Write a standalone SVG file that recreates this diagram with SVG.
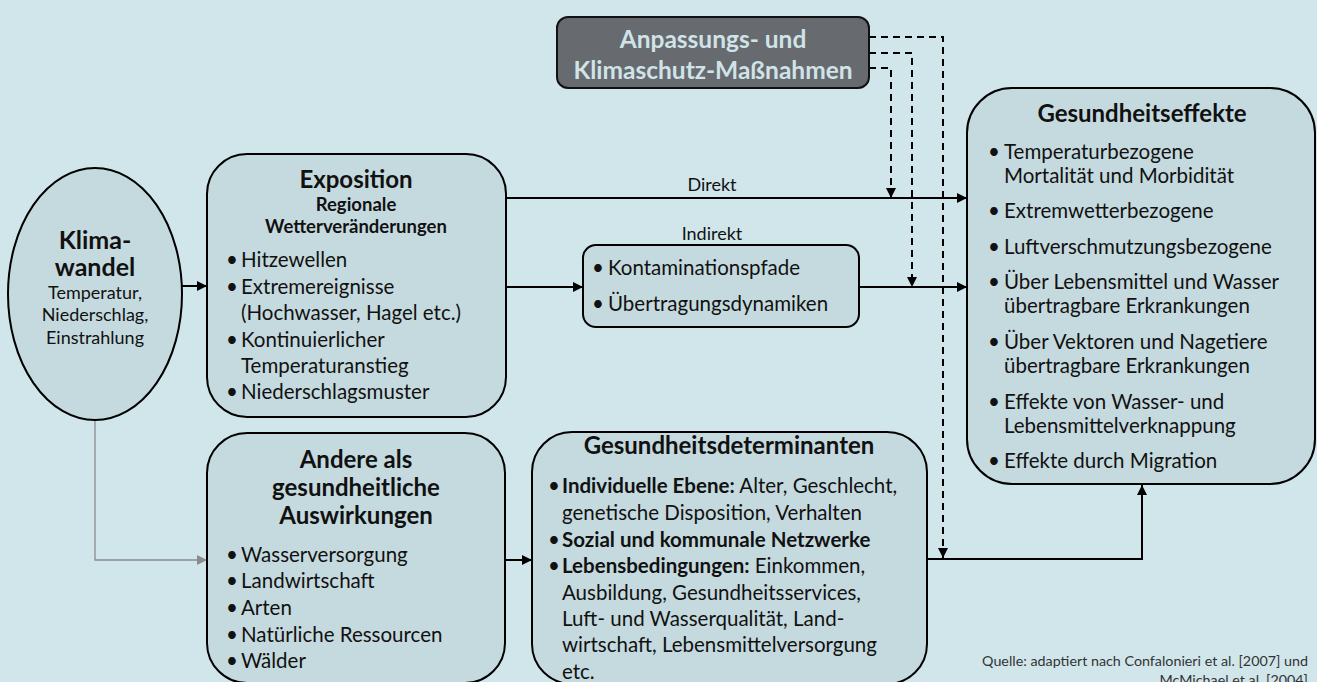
<svg xmlns="http://www.w3.org/2000/svg" width="1317" height="682" viewBox="0 0 1317 682">
<defs>
<marker id="ah" viewBox="0 0 10 10" refX="10" refY="5" markerWidth="11" markerHeight="10" markerUnits="userSpaceOnUse" orient="auto"><path d="M0,0 L10,5 L0,10 z" fill="#000"/></marker>
<marker id="ahg" viewBox="0 0 10 10" refX="10" refY="5" markerWidth="11" markerHeight="10" markerUnits="userSpaceOnUse" orient="auto"><path d="M0,0 L10,5 L0,10 z" fill="#8c8c8c"/></marker>
<style>
.bg{fill:#D0E6EB}
.node{fill:#C5DADF;stroke:#000;stroke-width:2}
.dark{fill:#676A6E;stroke:#111;stroke-width:2}
text{font-family:Lato,"Open Sans",sans-serif;fill:#111}
.t{font-size:24px;font-weight:bold;text-anchor:middle}
.st{font-size:18.5px;font-weight:bold;text-anchor:middle}
.b{font-size:20.5px}
.c{font-size:18px;text-anchor:middle}
.lbl{font-size:18px;text-anchor:middle}
.dk{font-size:24.5px;font-weight:bold;text-anchor:middle;fill:#CFE3E8}
.src{font-size:14.3px;text-anchor:end;fill:#333}
.ln{fill:none;stroke:#000;stroke-width:2}
.ds{fill:none;stroke:#000;stroke-width:2;stroke-dasharray:7 5}
.gr{fill:none;stroke:#8c8c8c;stroke-width:1.3}
</style>
</defs>
<rect class="bg" x="0" y="0" width="1317" height="682"/>

<g id="connectors">
<line class="ln" x1="182" y1="286" x2="207" y2="286" marker-end="url(#ah)"/>
<line class="ln" x1="506" y1="198" x2="967" y2="198" marker-end="url(#ah)"/>
<line class="ln" x1="506" y1="287" x2="583" y2="287" marker-end="url(#ah)"/>
<line class="ln" x1="859" y1="287" x2="967" y2="287" marker-end="url(#ah)"/>
<polyline class="gr" points="95,420 95,560 207,560" marker-end="url(#ahg)"/>
<line class="ln" x1="505" y1="560" x2="532" y2="560" marker-end="url(#ah)"/>
<polyline class="ln" points="927,559 1142,559 1142,485" marker-end="url(#ah)"/>
<polyline class="ds" points="869,37 943,37 943,558" marker-end="url(#ah)"/>
<polyline class="ds" points="869,53 912,53 912,287" marker-end="url(#ah)"/>
<polyline class="ds" points="869,68 891,68 891,198" marker-end="url(#ah)"/>
<text class="lbl" x="712" y="191">Direkt</text>
<text class="lbl" x="712" y="240">Indirekt</text>
</g>

<g id="massnahmen">
<rect class="dark" x="557" y="17" width="312" height="71" rx="11"/>
<text class="dk" x="713" y="48">Anpassungs- und</text>
<text class="dk" x="713" y="79">Klimaschutz-Maßnahmen</text>
</g>

<g id="klimawandel">
<ellipse class="node" cx="95" cy="294" rx="87" ry="126"/>
<text x="95" y="249" style="font-size:25px;font-weight:bold;text-anchor:middle">Klima-</text>
<text x="95" y="276" style="font-size:25px;font-weight:bold;text-anchor:middle">wandel</text>
<text class="c" x="95" y="299">Temperatur,</text>
<text class="c" x="95" y="321">Niederschlag,</text>
<text class="c" x="95" y="344">Einstrahlung</text>
</g>

<g id="exposition">
<rect class="node" x="207" y="154" width="299" height="263" rx="40"/>
<text class="t" x="356" y="188">Exposition</text>
<text class="st" x="356" y="211">Regionale</text>
<text class="st" x="356" y="233">Wetterveränderungen</text>
<text class="b" x="226" y="267">•</text><text class="b" x="241" y="267">Hitzewellen</text>
<text class="b" x="226" y="294">•</text><text class="b" x="241" y="294">Extremereignisse</text>
<text class="b" x="241" y="320">(Hochwasser, Hagel etc.)</text>
<text class="b" x="226" y="347">•</text><text class="b" x="241" y="347">Kontinuierlicher</text>
<text class="b" x="241" y="373">Temperaturanstieg</text>
<text class="b" x="226" y="399">•</text><text class="b" x="241" y="399">Niederschlagsmuster</text>
</g>

<g id="kontamination">
<rect class="node" x="583" y="245" width="276" height="82" rx="13"/>
<text class="b" x="592" y="275">•</text><text class="b" x="608" y="275">Kontaminationspfade</text>
<text class="b" x="592" y="311">•</text><text class="b" x="608" y="311">Übertragungsdynamiken</text>
</g>

<g id="gesundheitseffekte">
<rect class="node" x="967" y="88" width="348" height="396" rx="45"/>
<text class="t" x="1142" y="122">Gesundheitseffekte</text>
<text class="b" x="988" y="159">•</text><text class="b" x="1004" y="159">Temperaturbezogene</text>
<text class="b" x="1004" y="183">Mortalität und Morbidität</text>
<text class="b" x="988" y="218">•</text><text class="b" x="1004" y="218">Extremwetterbezogene</text>
<text class="b" x="988" y="254">•</text><text class="b" x="1004" y="254">Luftverschmutzungsbezogene</text>
<text class="b" x="988" y="289">•</text><text class="b" x="1004" y="289">Über Lebensmittel und Wasser</text>
<text class="b" x="1004" y="313">übertragbare Erkrankungen</text>
<text class="b" x="988" y="349">•</text><text class="b" x="1004" y="349">Über Vektoren und Nagetiere</text>
<text class="b" x="1004" y="373">übertragbare Erkrankungen</text>
<text class="b" x="988" y="409">•</text><text class="b" x="1004" y="409">Effekte von Wasser- und</text>
<text class="b" x="1004" y="433">Lebensmittelverknappung</text>
<text class="b" x="988" y="468">•</text><text class="b" x="1004" y="468">Effekte durch Migration</text>
</g>

<g id="andere">
<rect class="node" x="207" y="433" width="298" height="250" rx="40"/>
<text class="t" x="356" y="468">Andere als</text>
<text class="t" x="356" y="496">gesundheitliche</text>
<text class="t" x="356" y="524">Auswirkungen</text>
<text class="b" x="226" y="562">•</text><text class="b" x="241" y="562">Wasserversorgung</text>
<text class="b" x="226" y="588">•</text><text class="b" x="241" y="588">Landwirtschaft</text>
<text class="b" x="226" y="615">•</text><text class="b" x="241" y="615">Arten</text>
<text class="b" x="226" y="642">•</text><text class="b" x="241" y="642">Natürliche Ressourcen</text>
<text class="b" x="226" y="668">•</text><text class="b" x="241" y="668">Wälder</text>
</g>

<g id="determinanten">
<rect class="node" x="532" y="432" width="395" height="252" rx="40"/>
<text class="t" x="729" y="454">Gesundheitsdeterminanten</text>
<text class="b" x="548" y="493">•</text><text class="b" x="562" y="493"><tspan font-weight="bold">Individuelle Ebene:</tspan> Alter, Geschlecht,</text>
<text class="b" x="562" y="520">genetische Disposition, Verhalten</text>
<text class="b" x="548" y="547">•</text><text class="b" x="562" y="547" font-weight="bold">Sozial und kommunale Netzwerke</text>
<text class="b" x="548" y="573">•</text><text class="b" x="562" y="573"><tspan font-weight="bold">Lebensbedingungen:</tspan> Einkommen,</text>
<text class="b" x="562" y="600">Ausbildung, Gesundheitsservices,</text>
<text class="b" x="562" y="626">Luft- und Wasserqualität, Land-</text>
<text class="b" x="562" y="652">wirtschaft, Lebensmittelversorgung</text>
<text class="b" x="562" y="679">etc.</text>
</g>

<g id="quelle">
<text class="src" x="1308" y="666">Quelle: adaptiert nach Confalonieri et al. [2007] und</text>
<text class="src" x="1308" y="685">McMichael et al. [2004]</text>
</g>
</svg>
